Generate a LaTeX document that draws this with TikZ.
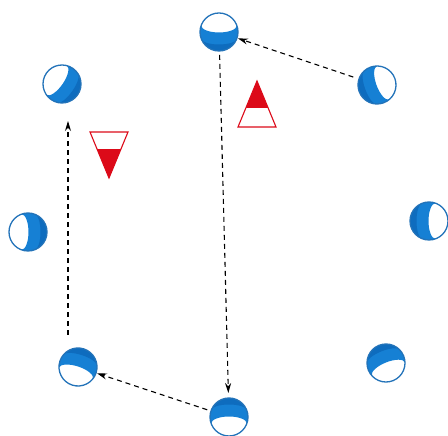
\documentclass[tikz,border=0pt]{standalone}
\usetikzlibrary{arrows.meta}
\definecolor{ballblue}{RGB}{22,128,212}
\definecolor{balldark}{RGB}{14,108,190}
\definecolor{ballline}{RGB}{35,115,185}
\definecolor{conered}{RGB}{220,10,25}
\tikzset{
  bnode/.style={circle,minimum size=40pt,inner sep=0pt,outer sep=0pt},
  arr/.style={draw=black,line width=1.1pt,dash pattern=on 5pt off 4pt,-{Stealth[length=10pt,width=6pt]}},
  cone/.style={draw=conered,line width=1.1pt,line join=miter},
  ball/.pic={
    \fill[ballblue] (110:19) arc[start angle=110,end angle=-110,radius=19]
      arc[start angle=-90,end angle=90,x radius=7,y radius=17.85];
    \fill[balldark] (70:19) arc[start angle=70,end angle=-70,radius=19]
      arc[start angle=-90,end angle=90,x radius=6,y radius=17.85];
    \draw[ballline,line width=1.3pt] (0,0) circle[radius=19];
  }
}
\begin{document}
\begin{tikzpicture}[x=1pt,y=1pt]
\useasboundingbox (0,0) rectangle (448,436);
% ball nodes
\node[bnode] (T)  at (219,404) {};
\node[bnode] (TL) at (62,352) {};
\node[bnode] (TR) at (377,351) {};
\node[bnode] (L)  at (28,204) {};
\node[bnode] (R)  at (429,215) {};
\node[bnode] (BL) at (78,69) {};
\node[bnode] (B)  at (229,19) {};
\node[bnode] (BR) at (386,73) {};
\pic[rotate=-90] at (T) {ball};
\pic[rotate=-35] at (TL) {ball};
\pic[rotate=200] at (TR) {ball};
\pic[rotate=0] at (L) {ball};
\pic[rotate=180] at (R) {ball};
\pic[rotate=72] at (BL) {ball};
\pic[rotate=90] at (B) {ball};
\pic[rotate=112] at (BR) {ball};
% connectors
\coordinate (lx) at (68,0);
\draw[arr,shorten <=5pt] (TR) -- (T);
\draw[arr,shorten <=3pt,shorten >=4pt] (T) -- (B);
\draw[arr,shorten <=3pt] (B) -- (BL);
\draw[arr,shorten <=12pt,shorten >=17pt] (BL.north -| lx) -- (TL.south -| lx);
% down cone
\fill[conered] (97.4,286) -- (120.6,286) -- (109,258) -- cycle;
\draw[cone] (90,304) -- (128,304) -- (109,258) -- cycle;
\draw[conered,line width=1.1pt] (97.4,286) -- (120.6,286);
% up cone
\fill[conered] (246.3,329) -- (267.7,329) -- (257,355) -- cycle;
\draw[cone] (238,309) -- (276,309) -- (257,355) -- cycle;
\draw[conered,line width=1.1pt] (246.3,329) -- (267.7,329);
\end{tikzpicture}
\end{document}
